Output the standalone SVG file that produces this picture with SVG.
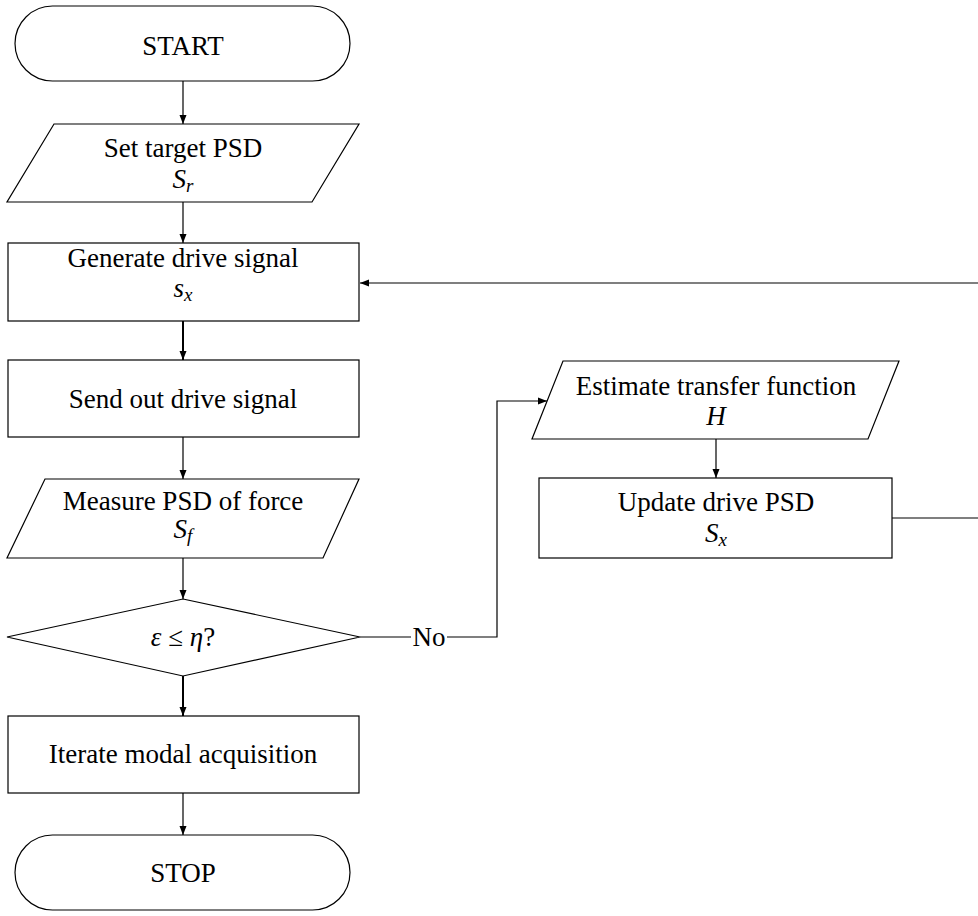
<svg xmlns="http://www.w3.org/2000/svg" width="978" height="916" viewBox="0 0 978 916">
<style>
.node{fill:#fff;stroke:#000;stroke-width:1.2}
.t{font-family:"Liberation Serif","Times New Roman",serif;font-size:27px;fill:#000;text-anchor:middle}
.m{font-style:italic}
.sub{font-size:19px;font-style:italic}
.c{fill:none;stroke:#000;stroke-width:1.2}
.thick{stroke-width:2}
</style>
<defs>
<marker id="ah" markerUnits="userSpaceOnUse" markerWidth="10" markerHeight="8" refX="9" refY="4" orient="auto">
<path d="M0,0.5 L9,4 L0,7.5 Z" fill="#000"/>
</marker>
</defs>
<g id="connectors">
<line class="c" x1="183" y1="81" x2="183" y2="124" marker-end="url(#ah)"/>
<line class="c" x1="183" y1="202" x2="183" y2="243" marker-end="url(#ah)"/>
<line class="c thick" x1="183" y1="321" x2="183" y2="360" marker-end="url(#ah)"/>
<line class="c" x1="183" y1="437" x2="183" y2="479" marker-end="url(#ah)"/>
<line class="c" x1="183" y1="558" x2="183" y2="599" marker-end="url(#ah)"/>
<line class="c thick" x1="183" y1="676" x2="183" y2="716" marker-end="url(#ah)"/>
<line class="c" x1="183" y1="793" x2="183" y2="835" marker-end="url(#ah)"/>
<line class="c" x1="360" y1="637" x2="411" y2="637"/>
<polyline class="c" points="447,637 497,637 497,401 547,401" marker-end="url(#ah)"/>
<line class="c" x1="716" y1="439" x2="716" y2="478" marker-end="url(#ah)"/>
<line class="c" x1="892" y1="518" x2="980" y2="518"/>
<line class="c" x1="980" y1="283" x2="360" y2="283" marker-end="url(#ah)"/>
<text class="t" x="429" y="646">No</text>
</g>
<g id="start">
<rect class="node" x="15" y="6" width="335" height="75" rx="37.5" ry="37.5"/>
<text class="t" x="183" y="55">START</text>
</g>
<g id="set-target">
<polygon class="node" points="54,124 359,124 312,202 7,202"/>
<text class="t" x="183" y="157">Set target PSD</text>
<text class="t" x="183" y="188"><tspan class="m">S</tspan><tspan class="sub" dy="4">r</tspan></text>
</g>
<g id="generate">
<rect class="node" x="8" y="243" width="351" height="78"/>
<text class="t" x="183" y="267">Generate drive signal</text>
<text class="t" x="183" y="297"><tspan class="m">s</tspan><tspan class="sub" dy="4">x</tspan></text>
</g>
<g id="send">
<rect class="node" x="8" y="360" width="351" height="77"/>
<text class="t" x="183" y="408">Send out drive signal</text>
</g>
<g id="measure">
<polygon class="node" points="45,479 359,479 323,558 7,558"/>
<text class="t" x="183" y="510">Measure PSD of force</text>
<text class="t" x="183" y="538"><tspan class="m">S</tspan><tspan class="sub" dy="4">f</tspan></text>
</g>
<g id="decision">
<polygon class="node" points="183,599 360,637 183,676 7,637"/>
<text class="t" x="183" y="646"><tspan class="m">ε</tspan> ≤ <tspan class="m">η</tspan>?</text>
</g>
<g id="iterate">
<rect class="node" x="8" y="716" width="351" height="77"/>
<text class="t" x="183" y="763">Iterate modal acquisition</text>
</g>
<g id="stop">
<rect class="node" x="15" y="835" width="335" height="75" rx="37.5" ry="37.5"/>
<text class="t" x="183" y="882">STOP</text>
</g>
<g id="estimate">
<polygon class="node" points="563,361 899,361 868,439 532,439"/>
<text class="t" x="716" y="395">Estimate transfer function</text>
<text class="t m" x="716" y="425">H</text>
</g>
<g id="update">
<rect class="node" x="539" y="478" width="353" height="80"/>
<text class="t" x="716" y="511">Update drive PSD</text>
<text class="t" x="716" y="542"><tspan class="m">S</tspan><tspan class="sub" dy="4">x</tspan></text>
</g>
</svg>
